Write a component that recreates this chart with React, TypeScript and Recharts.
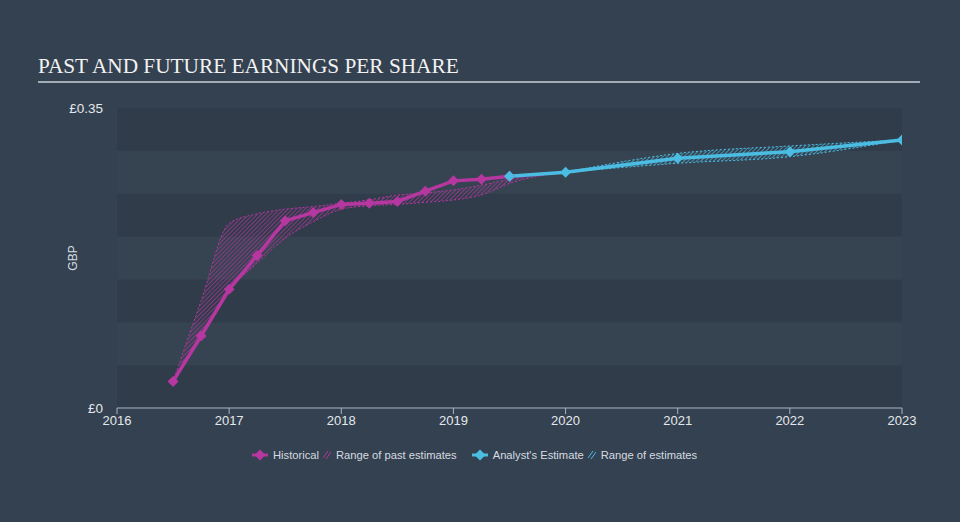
import React from 'react';
import {
  Area,
  ComposedChart,
  Line,
  ReferenceArea,
  XAxis,
  YAxis,
} from 'recharts';

// historical EPS, quarterly (GBP)
const histYears = [2016.5, 2016.75, 2017, 2017.25, 2017.5, 2017.75, 2018, 2018.25, 2018.5, 2018.75, 2019, 2019.25, 2019.5];
const histEps = [0.031, 0.084, 0.1385, 0.178, 0.2185, 0.228, 0.2375, 0.239, 0.241, 0.253, 0.265, 0.267, 0.2705];

// range of past estimates
const pastYears = [...histYears, 2020];
const pastLow = [0.031, 0.084, 0.137, 0.169, 0.198, 0.2174, 0.2318, 0.236, 0.2375, 0.24, 0.2427, 0.2485, 0.262, 0.275];
const pastHigh = [0.031, 0.125, 0.2155, 0.2265, 0.232, 0.235, 0.2389, 0.243, 0.2485, 0.251, 0.2545, 0.26, 0.267, 0.275];

// analyst estimates
const estYears = [2019.5, 2020, 2021, 2022, 2023];
const estEps = [0.2705, 0.275, 0.2913, 0.299, 0.3127];
const rangeYears = [2020, 2021, 2022, 2023];
const rangeLow = [0.275, 0.2855, 0.2932, 0.3127];
const rangeHigh = [0.275, 0.297, 0.3057, 0.3127];

const xTicks = [2016, 2017, 2018, 2019, 2020, 2021, 2022, 2023];
const yTicks = [0, 0.35];
const bandEdges = [0, 0.05, 0.1, 0.15, 0.2, 0.25, 0.3, 0.35];

const PINK = '#b5379f';
const BLUE = '#4bbde3';
const BG = '#344150';
const FONT = '"Liberation Sans", Arial, sans-serif';

const historical = histYears.map((x, i) => ({ x, eps: histEps[i] }));
const pastRange = pastYears.map((x, i) => ({ x, range: [pastLow[i], pastHigh[i]] }));
const estimates = estYears.map((x, i) => ({ x, eps: estEps[i] }));
const estRange = rangeYears.map((x, i) => ({ x, range: [rangeLow[i], rangeHigh[i]] }));

function diamond(color: string) {
  return (props: any) => {
    const { cx, cy, index } = props;
    if (cx == null || cy == null) return <g key={index} />;
    const r = 5.5;
    return (
      <polygon
        key={index}
        points={`${cx},${cy - r} ${cx + r},${cy} ${cx},${cy + r} ${cx - r},${cy}`}
        fill={color}
      />
    );
  };
}

function LegendMarker({ color }: { color: string }) {
  return (
    <svg width={16} height={12} style={{ marginRight: 5 }}>
      <line x1={0} y1={6} x2={16} y2={6} stroke={color} strokeWidth={3} />
      <polygon points="8,0.5 13.5,6 8,11.5 2.5,6" fill={color} />
    </svg>
  );
}

function LegendHatch({ color }: { color: string }) {
  return (
    <svg width={8} height={10} style={{ margin: '0 5px 0 4px' }}>
      <line x1={0} y1={8} x2={5} y2={1} stroke={color} strokeWidth={1} />
      <line x1={3} y1={9} x2={8} y2={2} stroke={color} strokeWidth={1} />
    </svg>
  );
}

export default function App() {
  return (
    <div
      style={{
        position: 'absolute',
        left: 0,
        top: 0,
        width: 960,
        height: 522,
        background: BG,
        fontFamily: FONT,
        overflow: 'hidden',
      }}
    >
      <svg width={0} height={0} style={{ position: 'absolute' }}>
        <defs>
          <pattern id="hatchPink" patternUnits="userSpaceOnUse" width={3} height={3} patternTransform="rotate(45)">
            <line x1={0} y1={0} x2={0} y2={3} stroke={PINK} strokeWidth={1.3} />
          </pattern>
          <pattern id="hatchBlue" patternUnits="userSpaceOnUse" width={3} height={3} patternTransform="rotate(45)">
            <line x1={0} y1={0} x2={0} y2={3} stroke={BLUE} strokeWidth={1.3} />
          </pattern>
        </defs>
      </svg>

      <div
        style={{
          position: 'absolute',
          left: 38,
          top: 54,
          fontFamily: '"Liberation Serif", "Times New Roman", serif',
          fontSize: 21.3,
          color: '#f2f2f2',
          whiteSpace: 'nowrap',
        }}
      >
        PAST AND FUTURE EARNINGS PER SHARE
      </div>
      <div style={{ position: 'absolute', left: 38, top: 81, width: 882, height: 2, background: '#a3abb4' }} />

      <div
        style={{
          position: 'absolute',
          left: 73,
          top: 258,
          transform: 'translate(-50%, -50%) rotate(-90deg)',
          fontSize: 12,
          color: '#d8dde2',
        }}
      >
        GBP
      </div>

      <ComposedChart
        width={960}
        height={522}
        data={historical}
        margin={{ top: 108, right: 58, bottom: 84, left: 0 }}
        style={{ position: 'absolute', left: 0, top: 0 }}
      >
        {bandEdges.slice(0, -1).map((y, i) => (
          <ReferenceArea
            key={y}
            y1={y}
            y2={bandEdges[i + 1]}
            fill={i % 2 === 0 ? '#303c4a' : '#364351'}
            fillOpacity={1}
            stroke="none"
            ifOverflow="visible"
          />
        ))}
        <XAxis
          type="number"
          dataKey="x"
          domain={[2016, 2023]}
          ticks={xTicks}
          allowDataOverflow
          height={30}
          stroke="#a7b4c1"
          tickSize={6}
          tick={{ fontSize: 13, fill: '#e4e8ec', fontFamily: FONT }}
        />
        <YAxis
          width={117}
          domain={[0, 0.35]}
          ticks={yTicks}
          axisLine={false}
          tickLine={false}
          tickMargin={8}
          tickFormatter={(v) => (v === 0 ? '£0' : `£${v}`)}
          tick={{ fontSize: 13.5, fill: '#e4e8ec', fontFamily: FONT }}
        />
        <Area
          data={pastRange}
          dataKey="range"
          type="monotone"
          fill="url(#hatchPink)"
          fillOpacity={1}
          stroke={PINK}
          strokeWidth={1}
          strokeDasharray="2 2"
          isAnimationActive={false}
        />
        <Area
          data={estRange}
          dataKey="range"
          type="monotone"
          fill="url(#hatchBlue)"
          fillOpacity={1}
          stroke={BLUE}
          strokeWidth={1}
          strokeDasharray="2 2"
          isAnimationActive={false}
        />
        <Line
          data={historical}
          dataKey="eps"
          type="linear"
          stroke={PINK}
          strokeWidth={3.5}
          dot={diamond(PINK)}
          activeDot={false}
          isAnimationActive={false}
        />
        <Line
          data={estimates}
          dataKey="eps"
          type="linear"
          stroke={BLUE}
          strokeWidth={3.5}
          dot={diamond(BLUE)}
          activeDot={false}
          isAnimationActive={false}
        />
      </ComposedChart>

      <div
        style={{
          position: 'absolute',
          left: 252,
          top: 449,
          display: 'flex',
          alignItems: 'center',
          fontSize: 11.2,
          color: '#d6dbe0',
          whiteSpace: 'nowrap',
        }}
      >
        <LegendMarker color={PINK} />
        <span>Historical</span>
        <LegendHatch color={PINK} />
        <span>Range of past estimates</span>
        <span style={{ width: 15 }} />
        <LegendMarker color={BLUE} />
        <span>Analyst's Estimate</span>
        <LegendHatch color={BLUE} />
        <span>Range of estimates</span>
      </div>
    </div>
  );
}
